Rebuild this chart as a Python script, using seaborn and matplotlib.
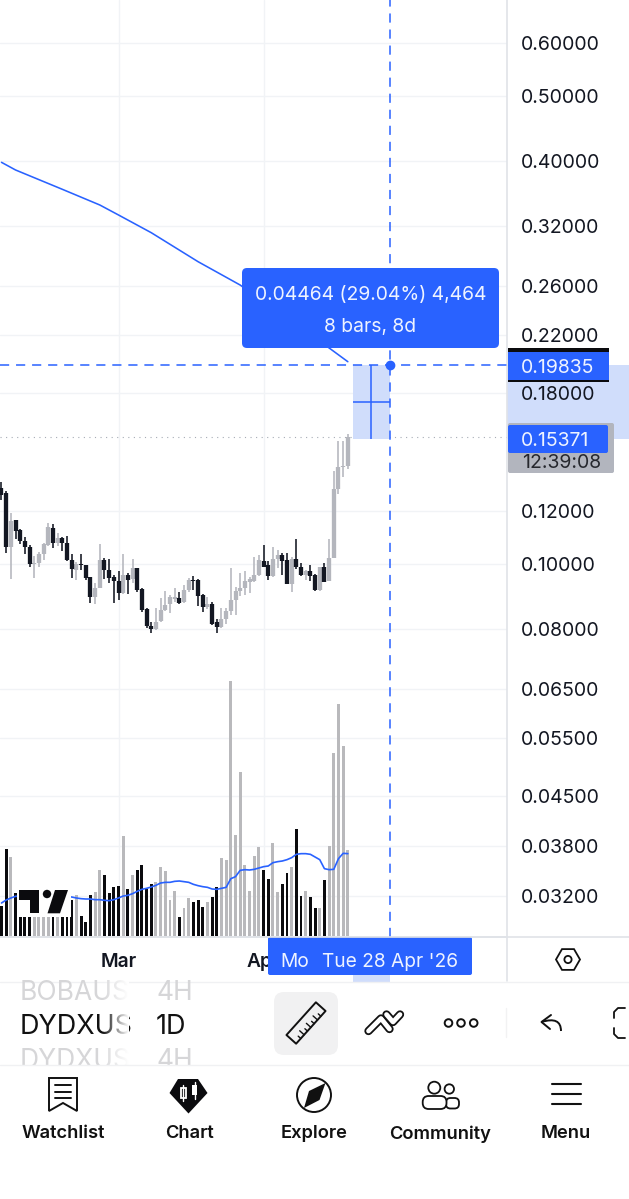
#!/usr/bin/env python3
import numpy as np
import pandas as pd
import matplotlib
matplotlib.use("Agg")
import matplotlib.pyplot as plt
import seaborn as sns
from matplotlib.patches import Circle, FancyBboxPatch, Polygon, Rectangle, RegularPolygon, PathPatch
from matplotlib.path import Path
from matplotlib.ticker import NullLocator

# daily candles, day 0 = 1 Mar 2026
days = np.arange(-25, 50)
opens = [.1297, .1278, .1061, .1163, .1124, .1083, .1061, .1000, .1003, .1034, .1067, .1130, .1074, .1092, .1074,
         .1014, .0980, .1000, .0995, .0955, .0892, .0922, .1014, .0980, .0956, .0943, .0905, .0964, .0949, .0986,
         .0918, .0857, .0807, .0799, .0821, .0854, .0871, .0887, .0891, .0876, .0915, .0947, .0945, .0898, .0862,
         .0872, .0818, .0805, .0827, .0850, .0883, .0912, .0922, .0941, .0944, .0964, .1011, .0995, .0960, .1016,
         .1031, .1014, .0934, .1018, .0990, .0962, .0975, .0964, .0913, .0991, .0943, .1020, .1294, .1394, .1402]
highs = [.1327, .1285, .1193, .1165, .1126, .1096, .1066, .1028, .1043, .1076, .1153, .1147, .1111, .1098, .1101,
         .1034, .1008, .1034, .0997, .0957, .0936, .1070, .1020, .1016, .0964, .0977, .1035, .0969, .1016, .0987,
         .0922, .0859, .0820, .0859, .0891, .0910, .0899, .0920, .0907, .0931, .0953, .0960, .0949, .0903, .0892,
         .0879, .0828, .0859, .0859, .0986, .0925, .0971, .0975, .0955, .1023, .1031, .1067, .1011, .1059, .1049,
         .1037, .1039, .1026, .1088, .1003, .0980, .0997, .0967, .0991, .1005, .1088, .1378, .1528, .1528, .1564]
lows = [.1246, .1039, .0949, .1088, .1071, .1034, .0991, .0952, .0988, .1014, .1064, .1055, .1064, .1046, .1010,
        .0953, .0945, .0978, .0945, .0874, .0871, .0920, .0949, .0936, .0874, .0884, .0903, .0903, .0938, .0909,
        .0847, .0802, .0788, .0797, .0819, .0852, .0845, .0879, .0871, .0874, .0907, .0915, .0866, .0847, .0856,
        .0811, .0788, .0802, .0814, .0840, .0840, .0896, .0899, .0905, .0939, .0961, .0989, .0947, .0956, .0986,
        .0964, .0933, .0907, .0982, .0960, .0945, .0942, .0912, .0912, .0939, .0942, .1019, .1270, .1350, .1386]
closes = [.1268, .1059, .1159, .1120, .1083, .1059, .1000, .1005, .1034, .1071, .1134, .1076, .1092, .1074, .1014,
          .0982, .1000, .0995, .0953, .0892, .0922, .1014, .0980, .0953, .0943, .0905, .0964, .0947, .0986, .0913,
          .0854, .0807, .0801, .0820, .0854, .0869, .0892, .0894, .0874, .0915, .0945, .0943, .0896, .0862, .0872,
          .0814, .0805, .0827, .0852, .0883, .0912, .0922, .0944, .0950, .0964, .1014, .0991, .0960, .1016, .1031,
          .1012, .0934, .1018, .0991, .0962, .0975, .0961, .0913, .0990, .0941, .1020, .1294, .1394, .1402, .1549]
# volume, arbitrary units since the panel has no scale
volumes = [90, 262, 237, 129, 97, 83, 57, 57, 57, 57, 57, 57, 57, 69, 89,
           107, 124, 59, 42, 124, 132, 199, 182, 129, 147, 151, 300, 142, 184, 197,
           214, 142, 155, 161, 207, 196, 109, 134, 56, 85, 115, 102, 109, 87, 101,
           117, 147, 233, 229, 764, 302, 491, 212, 134, 239, 267, 197, 171, 279, 133,
           155, 189, 207, 322, 119, 135, 116, 84, 85, 167, 270, 548, 697, 570, 257]
volume_ma = [99, 108, 114, 119, 120, 120, 118, 118, 118, 118, 117, 117, 117, 117, 117,
             117, 114, 112, 111, 111, 109, 109, 107, 106, 109, 114, 120, 122, 127, 134,
             140, 143, 147, 152, 159, 161, 161, 164, 165, 163, 161, 155, 151, 148, 146,
             141, 140, 143, 146, 172, 178, 197, 199, 198, 200, 204, 208, 210, 220, 223,
             225, 229, 235, 245, 247, 247, 245, 237, 229, 202, 199, 200, 232, 248, 247]
# long moving average, hidden behind the tooltip in the middle
ma_days = [-25, -22, -12, -4, 0, 7, 17, 26, 45, 49]
ma_prices = [.3976, .3873, .3624, .3434, .3318, .3122, .2826, .2608, .2101, .2004]

price_ticks = [.60, .50, .40, .32, .26, .22, .18, .12, .10, .08, .065, .055, .045, .038, .032]
month_days = [0, 31]
month_labels = ["Mar", "Apr"]

measure_from_day = 50
measure_to_day = 58
measure_from_price = 0.15371
measure_to_price = 0.19835

BLUE = "#2962ff"
LIGHT_BLUE = "#d0ddfb"
INK = "#131722"
GRID = "#f1f3f6"
BORDER = "#e0e3e8"
CANDLE_UP = "#b4b6bd"
CANDLE_DOWN = "#131722"
TAG_SIZE = 14.0

sns.set_theme(style="white")
plt.rcParams["font.family"] = ["Inter", "DejaVu Sans"]

W, H = 629, 1199
fig = plt.figure(figsize=(W / 100, H / 100), dpi=100, facecolor="white")
ax = fig.add_axes([0, 1 - 937 / H, 507 / W, 937 / H])
vol_ax = ax.twinx()
vol_ax.patch.set_visible(False)

df = pd.DataFrame({"day": days, "open": opens, "high": highs, "low": lows, "close": closes, "volume": volumes})
df["side"] = np.where(df["close"] >= df["open"], "up", "down")

# volume panel shares the price pane
sns.barplot(data=df, x="day", y="volume", hue="side", palette={"up": "#b9b9bc", "down": "#0b0b0e"},
            native_scale=True, dodge=False, width=0.62, saturation=1, linewidth=0, legend=False, ax=vol_ax)
sns.lineplot(x=days, y=volume_ma, color=BLUE, linewidth=1.2, ax=vol_ax, legend=False)
vol_ax.set_ylim(-3, 2808)
vol_ax.yaxis.set_visible(False)
vol_ax.set_ylabel("")
vol_ax.set_xlabel("")
vol_ax.grid(False)
for s in vol_ax.spines.values():
    s.set_visible(False)

# candles
ax.set_yscale("log")
for side, col in [("up", CANDLE_UP), ("down", CANDLE_DOWN)]:
    part = df[df["side"] == side]
    ax.vlines(part["day"], part["low"], part["high"], color=col, linewidth=1.15, capstyle="butt", zorder=3)
    ax.vlines(part["day"], part[["open", "close"]].min(axis=1), part[["open", "close"]].max(axis=1),
              color=col, linewidth=3.1, capstyle="butt", zorder=3)

sns.lineplot(x=ma_days, y=ma_prices, color=BLUE, linewidth=1.15, ax=ax, legend=False, zorder=4)

# last price
ax.axhline(closes[-1], color="#a6abb5", linewidth=0.8, linestyle=(0, (1, 4)), zorder=1)

# measure tool
ax.add_patch(Rectangle((measure_from_day, measure_from_price), measure_to_day - measure_from_day,
                       measure_to_price - measure_from_price, color=LIGHT_BLUE, linewidth=0, zorder=1))
ax.axhline(measure_to_price, color=BLUE, linewidth=1.1, linestyle=(0, (6, 4.5)), zorder=4)
ax.axvline(measure_to_day, color=BLUE, linewidth=1.1, linestyle=(0, (6, 4.5)), zorder=4)
mid_day = (measure_from_day + measure_to_day) / 2
mid_price = np.sqrt(measure_from_price * measure_to_price)
ax.vlines(mid_day, measure_from_price, measure_to_price, color=BLUE, linewidth=1.1, zorder=4)
ax.hlines(mid_price, measure_from_day, measure_to_day, color=BLUE, linewidth=1.1, zorder=4)
ax.plot([measure_to_day], [measure_to_price], "o", color=BLUE, markersize=6, zorder=5)
# shaded projections on both scales
ax.axhspan(measure_from_price, measure_to_price, xmin=1, xmax=W / 507, color=LIGHT_BLUE, linewidth=0,
           clip_on=False, zorder=0.2)
ax.axvspan(measure_from_day, measure_to_day, ymin=-45 / 937, ymax=0, color=LIGHT_BLUE, linewidth=0,
           clip_on=False, zorder=0.2)

ax.set_xlim(-25.32, 83.01)
ax.set_ylim(0.02775, 0.6946)
ax.set_axisbelow(True)
ax.yaxis.tick_right()
ax.set_yticks(price_ticks, labels=[f"{p:.5f}" for p in price_ticks])
ax.yaxis.set_minor_locator(NullLocator())
ax.set_xticks(month_days, labels=month_labels)
ax.tick_params(axis="y", length=0, pad=10, labelsize=TAG_SIZE, labelcolor=INK)
ax.tick_params(axis="x", length=0, pad=11.5, labelsize=13.8, labelcolor=INK)
for t in ax.get_xticklabels():
    t.set_fontweight("semibold")
for t in ax.get_yticklabels():
    t.set_verticalalignment("center_baseline")
ax.grid(True, axis="both", color=GRID, linewidth=1)
ax.set_xlabel("")
ax.set_ylabel("")
for name, s in ax.spines.items():
    s.set_visible(name in ("right", "bottom"))
    s.set_color(BORDER)
    s.set_linewidth(1.2)

# app chrome, in pixel coordinates
ui = fig.add_axes([0, 0, 1, 1], zorder=10)
ui.set_xlim(0, W)
ui.set_ylim(H, 0)
ui.axis("off")
ui.patch.set_visible(False)


def label(x, y, s, size=TAG_SIZE, color=INK, ha="center", **kw):
    return ui.text(x, y, s, fontsize=size, color=color, ha=ha, va="center_baseline", **kw)


def round_box(x0, y0, x1, y1, r, **kw):
    p = FancyBboxPatch((x0 + r, y0 + r), x1 - x0 - 2 * r, y1 - y0 - 2 * r,
                       boxstyle=f"round,pad={r},rounding_size={r}", **kw)
    ui.add_patch(p)
    return p


def stroke(xs, ys, lw=1.3, color="#111111", **kw):
    ui.plot(xs, ys, color=color, linewidth=lw, solid_capstyle="round", solid_joinstyle="round", **kw)


# chart frame
ui.plot([0, W], [937, 937], color=BORDER, linewidth=1.2)
ui.plot([507, 507], [937, 981], color=BORDER, linewidth=1.2)
ui.plot([0, W], [981.5, 981.5], color="#f0f1f3", linewidth=1)

# tradingview mark
ui.add_patch(Rectangle((16.5, 886), 54, 31, color="white", linewidth=0))
ui.add_patch(Polygon([(19, 890), (39.3, 890), (39.3, 913.3), (30, 913.3), (30, 900), (19, 900)], color="#0b0b0e", linewidth=0))
ui.add_patch(Circle((47, 894), 4.2, color="#0b0b0e", linewidth=0))
ui.add_patch(Polygon([(55, 890), (68, 890), (60, 913.3), (47.5, 913.3)], color="#0b0b0e", linewidth=0))

# tooltip
round_box(242, 268, 499, 348, 5, facecolor=BLUE, edgecolor="none")
label(370.5, 293, "0.04464 (29.04%) 4,464", color="#eef3ff", size=13.9)
label(370.5, 325, "8 bars, 8d", color="#eef3ff", size=13.9)

# price tags
ui.add_patch(Rectangle((508, 348), 100.5, 34, color="#0b0b0e", linewidth=0))
ui.add_patch(Rectangle((508, 351.5), 100.5, 28, color=BLUE, linewidth=0))
label(521, 366, f"{measure_to_price:.5f}", color="#eef3ff", ha="left")
round_box(508, 423, 614, 473, 2, facecolor="#b2b5be", edgecolor="none")
label(522, 461, "12:39:08", color="#26282e", ha="left")
round_box(508, 425, 608, 453, 2, facecolor=BLUE, edgecolor="none")
label(521, 439, f"{measure_from_price:.5f}", color="#eef3ff", ha="left")

# date tag
round_box(268, 937, 472, 975, 2, facecolor=BLUE, edgecolor="none")
label(295, 960, "Mo", size=13.8, color="#eef3ff")
label(390, 960, "Tue 28 Apr '26", size=13.8, color="#eef3ff")

# settings hexagon on the scale corner
ui.add_patch(RegularPolygon((568, 959.5), 6, radius=12, orientation=np.pi / 2, fill=False, edgecolor="#111111", linewidth=1.3))
ui.add_patch(Circle((568, 959.5), 3.6, fill=False, edgecolor="#111111", linewidth=1.3))

# symbol wheel
clip = Rectangle((0, 982), W, 83, transform=ui.transData)
for y, sym, tf, col, size in [(989.5, "BOBAUS", "4H", "#d6d6d8", 19), (1024, "DYDXUS", "1D", "#111111", 19.4),
                              (1058.5, "DYDXUS", "4H", "#d6d6d8", 19)]:
    label(20, y, sym, size=size, color=col, ha="left").set_clip_path(clip)
    label(156, y, tf, size=size, color=col, ha="left").set_clip_path(clip)
fade = np.ones((1, 32, 4))
fade[..., 3] = np.linspace(0, 1, 32)
ui.imshow(fade, extent=(102, 129, 1066, 978), aspect="auto", zorder=6)
ui.set_xlim(0, W)
ui.set_ylim(H, 0)
ui.plot([0, W], [1065, 1065], color="#f0f1f3", linewidth=1, zorder=7)
ui.add_patch(Rectangle((0, 1066), W, 3, color="white", linewidth=0, zorder=6))

# toolbar
round_box(274, 992, 338, 1055, 10, facecolor="#f1f1f2", edgecolor="none")
a = np.deg2rad(-48)
ux, uy = np.cos(a), np.sin(a)
vx, vy = -uy, ux
cx, cy = 306, 1023
corners = [(cx + s * 22 * ux + t * 6.5 * vx, cy + s * 22 * uy + t * 6.5 * vy) for s, t in [(-1, -1), (1, -1), (1, 1), (-1, 1)]]
ui.add_patch(Polygon(corners, fill=False, edgecolor="#111111", linewidth=1.4, joinstyle="round"))
for k in range(-3, 4):
    n = 6 if k % 2 == 0 else 3.5
    sx, sy = cx + k * 5 * ux + 6.5 * vx, cy + k * 5 * uy + 6.5 * vy
    stroke([sx, sx - n * vx], [sy, sy - n * vy], lw=1)

for xs, ys in [([368.5, 381, 389.5], [1031, 1018.5, 1029]), ([386.5, 393, 400], [1014.5, 1022, 1014.5])]:
    stroke(xs, ys, lw=6)
    stroke(xs, ys, lw=3.4, color="#ffffff")
for x in (448.5, 461, 473.7):
    ui.add_patch(Circle((x, 1023), 3.8, fill=False, edgecolor="#111111", linewidth=1.4))
ui.plot([506, 506], [1008, 1037], color="#f2f2f3", linewidth=1)
stroke([551, 541.5, 550], [1015, 1022, 1029], lw=1.4)
ui.add_patch(PathPatch(Path([(541.5, 1022), (561, 1016), (561, 1031)], [Path.MOVETO, Path.CURVE3, Path.CURVE3]),
                       fill=False, edgecolor="#111111", linewidth=1.4))
stroke([625, 618, 614, 614], [1008, 1008, 1012, 1018], lw=1.3)
stroke([625, 618, 614, 614], [1038, 1038, 1034, 1028], lw=1.3)

# bottom navigation
ui.add_patch(Polygon([(49, 1078), (77, 1078), (77, 1111), (63, 1103), (49, 1111)], fill=False, edgecolor="#111111", linewidth=1.4))
for y in (1085, 1091.5, 1098):
    stroke([55, 71], [y, y], lw=1.4)
ui.add_patch(Polygon([(178, 1079), (198, 1079), (207.5, 1093), (188.5, 1113.5), (169.5, 1093)], color="#0b0b0e", linewidth=0))
ui.add_patch(Rectangle((180.5, 1088), 5, 10, fill=False, edgecolor="white", linewidth=1.3))
stroke([183, 183], [1085, 1101], lw=1, color="white")
ui.add_patch(Rectangle((192, 1085), 5, 10, color="white", linewidth=0))
stroke([194.5, 194.5], [1081.5, 1098.5], lw=1, color="white")
ui.add_patch(Circle((314, 1095), 17, fill=False, edgecolor="#111111", linewidth=1.4))
ui.add_patch(Polygon([(325.5, 1083), (319.5, 1100), (304, 1108), (309, 1091)], color="#111111", linewidth=0))
round_box(446, 1098, 459, 1108.5, 4.5, fill=False, edgecolor="#111111", linewidth=1.3)
ui.add_patch(Circle((449.3, 1089), 4.7, fill=False, edgecolor="#111111", linewidth=1.3))
round_box(422.7, 1096, 446.5, 1109, 6, facecolor="white", edgecolor="#111111", linewidth=1.3)
ui.add_patch(Circle((434.3, 1087.7), 6, fill=False, edgecolor="#111111", linewidth=1.3))
for y in (1084.3, 1094.3, 1104.3):
    ui.plot([551.7, 580.7], [y, y], color="#111111", linewidth=1.5)
for x, name in [(63, "Watchlist"), (189, "Chart"), (314, "Explore"), (440, "Community"), (566, "Menu")]:
    label(x, 1132, name, size=13.2, color="#111111", fontweight="semibold")

fig.savefig("out.png", dpi=100, facecolor="white")
